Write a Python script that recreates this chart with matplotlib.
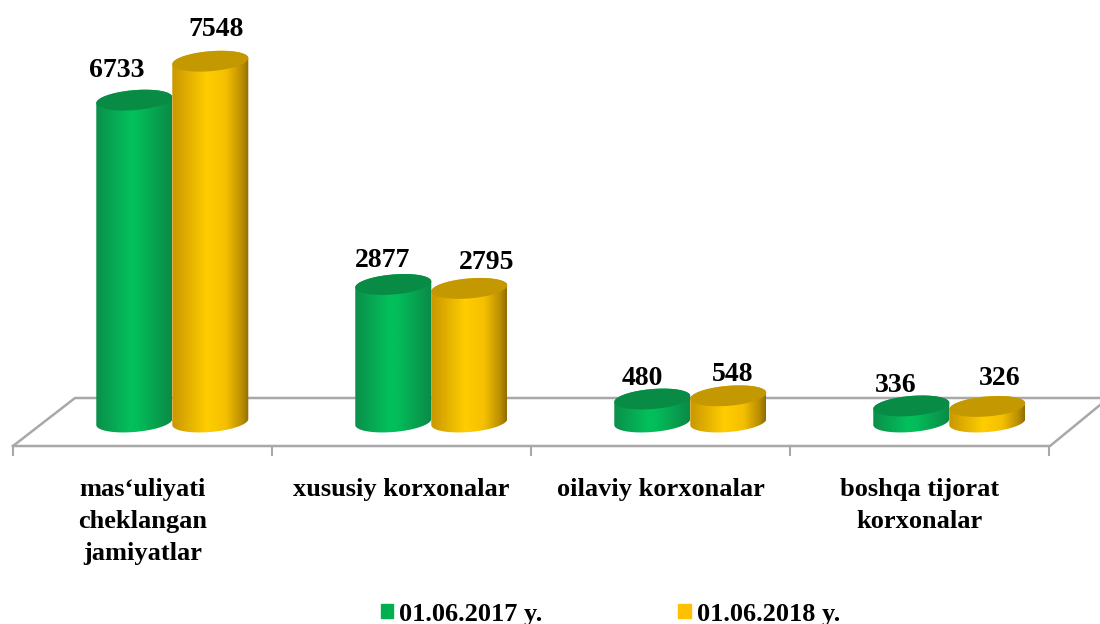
import numpy as np
import matplotlib
matplotlib.use('Agg')
import matplotlib.pyplot as plt
from matplotlib.colors import LinearSegmentedColormap
from matplotlib.patches import Patch, PathPatch
from matplotlib.path import Path

plt.rcParams['font.family'] = ['Liberation Serif', 'DejaVu Serif']
plt.rcParams['font.weight'] = 'bold'

categories = ['mas‘uliyati\ncheklangan\njamiyatlar', 'xususiy korxonalar',
              'oilaviy korxonalar', 'boshqa tijorat\nkorxonalar']
series_names = ['01.06.2017 y.', '01.06.2018 y.']
values_2017 = [6733, 2877, 480, 336]
values_2018 = [7548, 2795, 548, 326]

# scale of the picture: pixels per category and per unit of value
px_x = 259.0
px_y = 0.0478
zero_px = 422.0
left_px = 13.0

fig = plt.figure(figsize=(11, 6.24), dpi=100)
ax = fig.add_axes([0, 0, 1, 1])
xlim = (-0.5 - left_px / px_x, (1100 - left_px) / px_x - 0.5)
ylim = (-(624 - zero_px) / px_y, zero_px / px_y)


def px(x, y):
    # picture pixel to data coordinates, for the floor
    return (x - left_px) / px_x - 0.5, (zero_px - y) / px_y


# floor
floor = '#a8a8a8'
fx, fy = zip(*[px(13, 446), px(75, 398), px(1100, 398)])
ax.plot(fx, fy, color=floor, lw=1.8, zorder=1)
fx, fy = zip(*[px(13, 446), px(1050, 446), px(1100, 405)])
ax.plot(fx, fy, color=floor, lw=1.8, zorder=1)
for i in range(5):
    tx, ty = zip(*[px(13 + i * px_x, 446), px(13 + i * px_x, 455)])
    ax.plot(tx, ty, color=floor, lw=1.5, zorder=1)

green = LinearSegmentedColormap.from_list('g', [(0, '#0b8f4a'), (0.45, '#03c05c'), (0.55, '#03bd5a'), (1, '#0a8a47')])
yellow = LinearSegmentedColormap.from_list('y', [(0, '#c99700'), (0.45, '#ffcd00'), (0.7, '#f5c000'), (0.92, '#b88c00'), (1, '#8f6c00')])
top_colors = ['#088c45', '#c49800']
styles = [green, yellow]

half_w = 38 / px_x
slant = 3.0 / px_y  # right side sits higher than left
half_h = 10.0 / px_y
shift = 0.115
gradient = np.linspace(0, 1, 256).reshape(1, -1)


def ring(xc, yc, t):
    return np.column_stack([xc + half_w * np.cos(t), yc + slant * np.cos(t) + half_h * np.sin(t)])


for s, vals in enumerate([values_2017, values_2018]):
    for i, v in enumerate(vals):
        xc = i + shift + (s - 0.5) * 2 * half_w
        low = ring(xc, 0, np.linspace(np.pi, 2 * np.pi, 40))
        up = ring(xc, v, np.linspace(0, np.pi, 40))
        body = Path(np.vstack([low, up, low[:1]]), closed=False)
        patch = PathPatch(body, fc='none', ec='none', zorder=3 + s)
        ax.add_patch(patch)
        im = ax.imshow(gradient, cmap=styles[s], aspect='auto', zorder=3 + s,
                       extent=(xc - half_w, xc + half_w, -half_h * 2, v + half_h * 2))
        im.set_clip_path(patch)
        ax.fill(*ring(xc, v, np.linspace(0, 2 * np.pi, 80)).T, color=top_colors[s], lw=0, zorder=3 + s)

# value labels, vertical and sideways offset from the cylinder top (px)
label_off = [[(-18, 30), (-11, 24), (-10, 21), (-16, 20)],
             [(6, 32), (17, 26), (4, 21), (12, 28)]]
for s, vals in enumerate([values_2017, values_2018]):
    for i, v in enumerate(vals):
        xc = i + shift + (s - 0.5) * 2 * half_w
        dx, dy = label_off[s][i]
        ax.annotate(str(v), (xc, v), xytext=(dx * 0.72, dy * 0.72), textcoords='offset points',
                    ha='center', va='center', fontsize=20, color='black', zorder=6)

for i, c in enumerate(categories):
    ax.text(i, px(0, 478)[1], c, ha='center', va='top', fontsize=19, linespacing=1.49, color='black')

handles = [Patch(color='#00b050'), Patch(color='#ffc000')]
fig.legend(handles, series_names, loc='center', bbox_to_anchor=(0.555, 1 - 614 / 624), ncol=2, frameon=False,
           fontsize=19, handlelength=0.46, handleheight=0.46, handletextpad=0.25, columnspacing=5.15)

ax.set_xlim(xlim)
ax.set_ylim(ylim)
ax.axis('off')

fig.savefig('out.png', dpi=100)
